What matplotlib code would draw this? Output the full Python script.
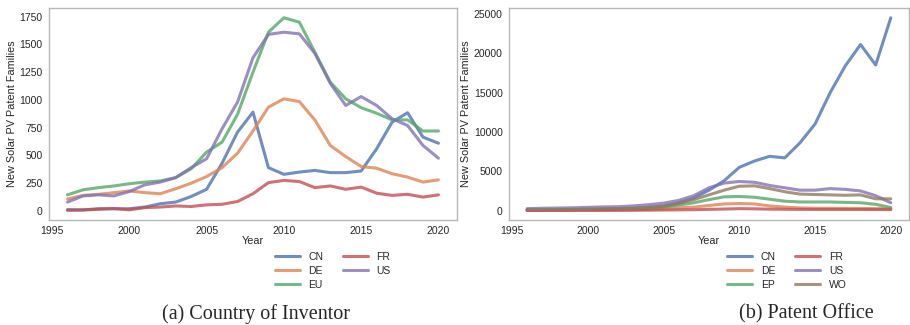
import matplotlib
matplotlib.use('Agg')
import matplotlib.pyplot as plt
import seaborn as sns

years = list(range(1996, 2021))

# new solar PV patent families by country of inventor
inventor = {
    'CN': [12, 10, 20, 20, 20, 35, 65, 80, 130, 195, 430, 710, 890, 390, 330, 350, 365, 345, 345, 360, 560, 800, 885, 665, 610],
    'DE': [108, 140, 150, 165, 180, 165, 155, 200, 250, 310, 390, 520, 720, 935, 1010, 985, 820, 590, 490, 400, 385, 335, 305, 260, 280],
    'EU': [145, 190, 210, 225, 245, 260, 270, 300, 380, 530, 620, 870, 1250, 1610, 1740, 1700, 1430, 1160, 1010, 930, 880, 820, 820, 720, 720],
    'FR': [5, 8, 15, 22, 10, 30, 35, 45, 40, 55, 60, 85, 155, 255, 275, 265, 210, 225, 195, 215, 160, 140, 150, 125, 145],
    'US': [80, 135, 145, 135, 175, 235, 260, 300, 390, 470, 740, 980, 1380, 1590, 1610, 1595, 1420, 1150, 950, 1030, 950, 830, 770, 590, 475],
}

# new solar PV patent families by patent office
office = {
    'CN': [60, 70, 90, 100, 120, 150, 200, 280, 400, 600, 1000, 1600, 2600, 3800, 5500, 6300, 6900, 6700, 8600, 11000, 15000, 18400, 21100, 18500, 24500],
    'DE': [40, 45, 50, 55, 60, 70, 80, 110, 160, 250, 350, 450, 650, 850, 900, 850, 600, 450, 350, 300, 300, 280, 270, 260, 250],
    'EP': [100, 110, 120, 140, 160, 180, 200, 250, 330, 450, 700, 1000, 1400, 1750, 1800, 1700, 1450, 1200, 1100, 1100, 1100, 1050, 1000, 800, 400],
    'FR': [30, 30, 35, 35, 40, 40, 45, 50, 60, 80, 100, 120, 160, 200, 250, 230, 190, 170, 160, 150, 150, 150, 150, 140, 130],
    'US': [250, 300, 330, 360, 420, 470, 500, 600, 750, 950, 1300, 1900, 2900, 3500, 3700, 3600, 3200, 2900, 2600, 2600, 2800, 2700, 2500, 1900, 1000],
    'WO': [100, 120, 140, 160, 190, 220, 250, 300, 400, 550, 900, 1400, 2000, 2600, 3100, 3150, 2800, 2400, 2100, 2050, 2000, 1950, 2000, 1500, 1500],
}

sns.set_style('whitegrid')
plt.rcParams['font.family'] = ['Liberation Sans', 'DejaVu Sans']
colors = sns.color_palette('deep')
palette = {'CN': colors[0], 'DE': colors[1], 'EU': colors[2], 'EP': colors[2],
           'FR': colors[3], 'US': colors[4], 'WO': colors[5]}

fig = plt.figure(figsize=(9.1, 3.25), dpi=100)
ax1 = fig.add_axes([0.0538, 0.323, 0.4484, 0.652])
ax2 = fig.add_axes([0.5593, 0.323, 0.4396, 0.652])


def draw_panel(ax, data):
    for name, vals in data.items():
        ax.plot(years, vals, color=palette[name], lw=2.2, alpha=0.8, label=name)
    ax.grid(False)
    ax.set_xticks([1995, 2000, 2005, 2010, 2015, 2020])
    ax.tick_params(labelsize=7.5, colors='.15', pad=1)
    ax.set_xlabel('Year', fontsize=7.8, color='.15', labelpad=0)
    ax.set_ylabel('New Solar PV Patent Families', fontsize=7.8, color='.15', labelpad=2)
    for s in ax.spines.values():
        s.set_color('.72')
        s.set_linewidth(1.0)
    ax.legend(ncol=2, loc='upper center', bbox_to_anchor=(0.695, -0.105), frameon=False,
              fontsize=7.5, handlelength=2.4, columnspacing=1.9, labelspacing=0.4)


draw_panel(ax1, inventor)
draw_panel(ax2, office)

fig.text(0.281, 0.02, '(a) Country of Inventor', family='Liberation Serif', fontsize=14.5, ha='center')
fig.text(0.886, 0.02, '(b) Patent Office', family='Liberation Serif', fontsize=14.5, ha='center')

fig.savefig('out.png', dpi=100)
